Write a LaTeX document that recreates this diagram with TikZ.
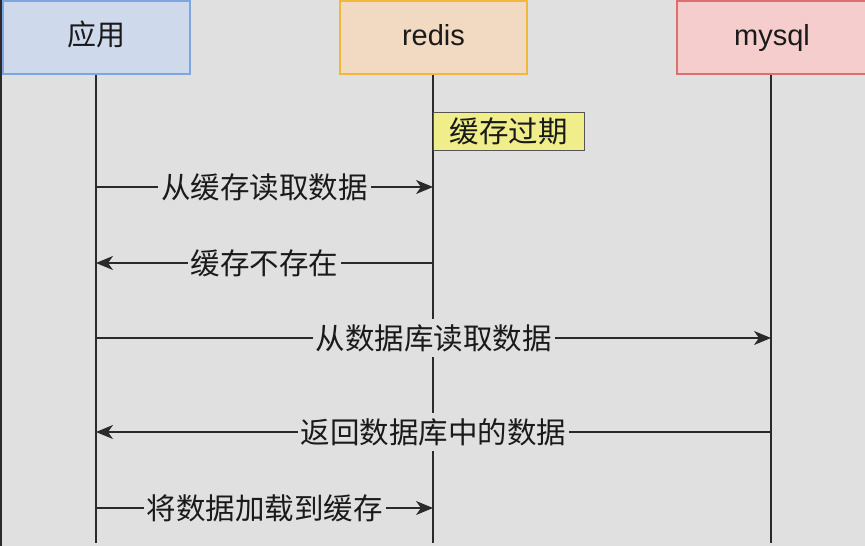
\documentclass[tikz,border=0pt]{standalone}
\usepackage{fontspec}
\setmainfont{Liberation Sans}
\newfontfamily\cjk{Noto Sans CJK SC}
\usetikzlibrary{arrows.meta}
\definecolor{bgc}{HTML}{E0E0E0}
\definecolor{appfill}{HTML}{CED9EC}
\definecolor{appdraw}{HTML}{7DA5E0}
\definecolor{redfill}{HTML}{F2DAC2}
\definecolor{reddraw}{HTML}{F3B73C}
\definecolor{myfill}{HTML}{F5CDCC}
\definecolor{mydraw}{HTML}{DF6E6E}
\definecolor{yelfill}{HTML}{EFEE8A}
\definecolor{yeldraw}{HTML}{555555}
\definecolor{linec}{HTML}{2A2A2A}
\definecolor{txtc}{HTML}{1A1A1A}
\tikzset{
  actor/.style={draw, line width=1.2pt, minimum width=187pt, minimum height=73pt, inner sep=0pt, text height=21pt, text depth=5pt, text=txtc, font=\fontsize{29}{32}\selectfont},
  life/.style={draw=linec, line width=1.5pt},
  msg/.style={draw=linec, line width=1.3pt, -{Stealth[length=17pt,width=14pt,inset=5pt]}},
  lab/.style={fill=bgc, inner xsep=3pt, inner ysep=5pt, text=txtc, font=\fontsize{29.5}{32}\selectfont\cjk},
  note/.style={draw=yeldraw, fill=yelfill, line width=1pt, minimum width=151pt, minimum height=38pt, inner sep=0pt, text=txtc, font=\fontsize{29.5}{32}\selectfont\cjk}
}
\begin{document}
\begin{tikzpicture}[x=1pt,y=-1pt]
\useasboundingbox (0,0) rectangle (865,546);
\fill[bgc] (0,0) rectangle (865,546);
\fill[linec] (0,0) rectangle (2,546);
% lifelines
\coordinate (aTop) at (96,74);
\coordinate (aBot) at (96,543);
\coordinate (rTop) at (433,74);
\coordinate (rBot) at (433,543);
\coordinate (mTop) at (771,74);
\coordinate (mBot) at (771,543);
\draw[life] (aTop) -- (aBot);
\draw[life] (rTop) -- (rBot);
\draw[life] (mTop) -- (mBot);
% actors
\node[actor, fill=appfill, draw=appdraw, font=\fontsize{29}{32}\selectfont\cjk] (app) at (96.5,37.5) {应用};
\node[actor, fill=redfill, draw=reddraw] (redis) at (433.5,37.5) {redis};
\node[actor, fill=myfill, draw=mydraw, minimum width=190pt] (mysql) at (772,37.5) {mysql};
% note
\node[note] (exp) at (508.5,131.5) {缓存过期};
% message points
\coordinate (a1) at (96,187); \coordinate (r1) at (433,187);
\coordinate (a2) at (96,263); \coordinate (r2) at (433,263);
\coordinate (a3) at (96,338); \coordinate (m3) at (771,338);
\coordinate (a4) at (96,432); \coordinate (m4) at (771,432);
\coordinate (a5) at (96,508); \coordinate (r5) at (433,508);
\draw[msg] (a1) -- node[lab] (l1) {从缓存读取数据} (r1);
\draw[msg] (r2) -- node[lab] (l2) {缓存不存在} (a2);
\draw[msg] (a3) -- node[lab] (l3) {从数据库读取数据} (m3);
\draw[msg] (m4) -- node[lab] (l4) {返回数据库中的数据} (a4);
\draw[msg] (a5) -- node[lab] (l5) {将数据加载到缓存} (r5);
\end{tikzpicture}
\end{document}
